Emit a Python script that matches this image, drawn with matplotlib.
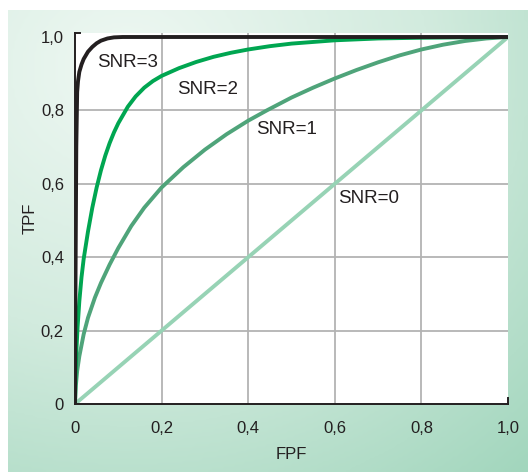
import numpy as np
import matplotlib
matplotlib.use("Agg")
import matplotlib.pyplot as plt
from matplotlib.colors import LinearSegmentedColormap

plt.rcParams['font.family'] = ['Liberation Sans', 'DejaVu Sans']

# ---- data ----
snr3_fpf = [0.0, 0.001, 0.003, 0.005, 0.007, 0.01, 0.015, 0.02, 0.03, 0.04, 0.05, 0.06, 0.075, 0.09, 0.11, 0.3, 0.6, 1.0]
snr3_tpf = [0.0, 0.30, 0.70, 0.85, 0.88, 0.905, 0.925, 0.94, 0.96, 0.973, 0.983, 0.99, 0.996, 0.999, 1.0, 1.0, 1.0, 1.0]

snr2_fpf = [0.0, 0.001, 0.003, 0.006, 0.01, 0.015, 0.02, 0.03, 0.04, 0.05, 0.06, 0.07, 0.08, 0.09, 0.1, 0.122, 0.14, 0.16,
            0.18, 0.2, 0.24, 0.28, 0.32, 0.36, 0.4, 0.45, 0.5, 0.6, 0.7, 0.8, 1.0]
snr2_tpf = [0.0, 0.07, 0.14, 0.21, 0.28, 0.345, 0.395, 0.47, 0.535, 0.59, 0.637, 0.677, 0.711, 0.74, 0.765, 0.81, 0.838, 0.862,
            0.88, 0.894, 0.915, 0.932, 0.946, 0.957, 0.966, 0.975, 0.982, 0.991, 0.996, 0.998, 1.0]

snr1_fpf = [0.0, 0.002, 0.005, 0.01, 0.02, 0.03, 0.046, 0.06, 0.08, 0.1, 0.13, 0.16, 0.2, 0.25, 0.3, 0.35, 0.4,
            0.443, 0.5, 0.55, 0.6, 0.65, 0.7, 0.75, 0.8, 0.85, 0.9, 0.95, 1.0]
snr1_tpf = [0.0, 0.05, 0.09, 0.13, 0.19, 0.235, 0.29, 0.33, 0.38, 0.425, 0.485, 0.535, 0.59, 0.645, 0.693, 0.735, 0.772,
            0.80, 0.835, 0.862, 0.887, 0.91, 0.931, 0.95, 0.966, 0.979, 0.989, 0.996, 1.0]

snr0_fpf = [0.0, 1.0]
snr0_tpf = [0.0, 1.0]

tick_vals = [0, 0.2, 0.4, 0.6, 0.8, 1.0]
tick_labels = ['0', '0,2', '0,4', '0,6', '0,8', '1,0']

labels = ['SNR=3', 'SNR=2', 'SNR=1', 'SNR=0']
label_pos = [(0.051, 0.93), (0.236, 0.858), (0.418, 0.749), (0.607, 0.559)]

# ---- figure ----
W, H = 528, 472
fig = plt.figure(figsize=(W / 100, H / 100), dpi=100)
fig.patch.set_facecolor('white')

# gradient background panel
bg = fig.add_axes([8 / W, 0, 1 - 8 / W, 1 - 10 / H])
bg.set_axis_off()
ny, nx = 200, 220
yy, xx = np.mgrid[0:ny, 0:nx]
cx, cy = 50, 25
d = np.sqrt(((xx - cx) / nx) ** 2 + ((yy - cy) / ny) ** 2)
d = d / d.max()
cmap = LinearSegmentedColormap.from_list('mint', ['#eff8f3', '#d2ebde', '#a2d6bd'])
bg.imshow(d, cmap=cmap, aspect='auto', interpolation='bilinear', extent=[0, 1, 0, 1])

# main axes
left, right, bottom, top = 75, 508, 404, 33
ax = fig.add_axes([left / W, 1 - bottom / H, (right - left) / W, (bottom - top) / H])
ax.set_facecolor('white')
ax.set_xlim(0, 1.0)
ax.set_ylim(0, 1.0 + 4 / 367)

for v in tick_vals[1:-1]:
    ax.axvline(v, color='#b3b3b3', lw=1.3, zorder=1)
    ax.axhline(v, color='#b3b3b3', lw=1.3, zorder=1)

style = dict(lw=2.8, solid_capstyle='butt', solid_joinstyle='round')
ax.plot(snr0_fpf, snr0_tpf, color='#97d3b5', zorder=2, **style)
ax.plot(snr1_fpf, snr1_tpf, color='#4fa47a', zorder=3, **style)
ax.plot(snr2_fpf, snr2_tpf, color='#00a651', zorder=4, **style)
ax.plot(snr3_fpf, snr3_tpf, color='#231f20', zorder=5, **style)

for txt, (x, y) in zip(labels, label_pos):
    ax.text(x, y, txt, fontsize=13.5, color='#231f20', ha='left', va='center', zorder=6)

for s in ['top', 'right']:
    ax.spines[s].set_visible(False)
for s in ['left', 'bottom']:
    ax.spines[s].set_color('#231f20')
    ax.spines[s].set_linewidth(1.4)

ax.set_xticks(tick_vals)
ax.set_xticklabels(tick_labels)
ax.set_yticks(tick_vals)
ax.set_yticklabels(tick_labels)
ax.tick_params(length=0, labelsize=12, colors='#231f20')
ax.tick_params(axis='x', pad=12)
ax.tick_params(axis='y', pad=8)

# end ticks on spines
ax.plot([0, 0.012], [ax.get_ylim()[1]] * 2, color='#231f20', lw=1.4, clip_on=False, zorder=7)
ax.plot([1.0, 1.0], [0, 0.015], color='#231f20', lw=1.4, clip_on=False, zorder=7)

ax.set_xlabel('FPF', fontsize=12, color='#231f20', labelpad=8)
ax.set_ylabel('TPF', fontsize=12, color='#231f20', labelpad=2)

fig.savefig('out.png', dpi=100, facecolor='white')
